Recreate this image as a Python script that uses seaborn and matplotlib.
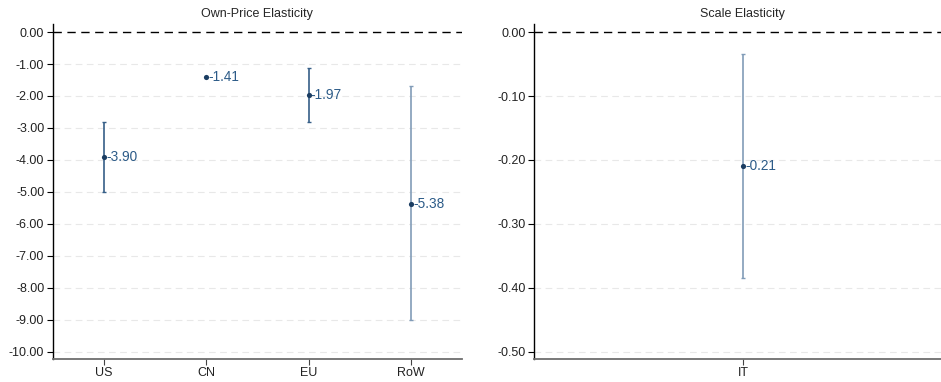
import matplotlib
matplotlib.use("Agg")
import matplotlib.pyplot as plt
import seaborn as sns
import pandas as pd
from matplotlib.ticker import FormatStrFormatter

# Own-price elasticities by region
regions = ["US", "CN", "EU", "RoW"]
own_est = [-3.90, -1.41, -1.97, -5.38]
own_lo = [-5.00, -1.41, -2.80, -9.02]
own_hi = [-2.80, -1.41, -1.12, -1.70]
own_precise = [True, True, True, False]

# Scale elasticity
scale_cat = ["IT"]
scale_est = [-0.21]
scale_lo = [-0.385]
scale_hi = [-0.034]
scale_precise = [False]

sns.set_theme(style="white")
plt.rcParams["font.family"] = ["Liberation Sans", "DejaVu Sans"]
plt.rcParams["axes.unicode_minus"] = False

POINT = "#1b3d62"
CI_DARK = "#365f88"
CI_LIGHT = "#819cb8"
LABEL = "#2c5b88"

fig = plt.figure(figsize=(9.41, 3.82), dpi=100)
ax1 = fig.add_axes([0.056, 0.061, 0.435, 0.876])
ax2 = fig.add_axes([0.568, 0.061, 0.443, 0.876])


def panel(ax, cats, est, lo, hi, precise, title, yticks, ylim):
    df = pd.DataFrame({"cat": cats, "est": est})
    for i, (l, h, p) in enumerate(zip(lo, hi, precise)):
        if h - l <= 0:
            continue
        c = CI_DARK if p else CI_LIGHT
        ax.errorbar(i, (l + h) / 2, yerr=(h - l) / 2, fmt="none", ecolor=c,
                    elinewidth=1.2, capsize=1.6, capthick=1.0, zorder=3)
    sns.scatterplot(data=df, x="cat", y="est", ax=ax, color=POINT, s=14,
                    edgecolor=POINT, linewidth=0, zorder=4)
    for i, v in enumerate(est):
        ax.annotate(f"{v:.2f}", (i, v), xytext=(1.5, 0), textcoords="offset points",
                    va="center", ha="left", fontsize=9.8, color=LABEL)
    ax.axhline(0, color="black", lw=1.0, ls=(0, (6, 4)), zorder=2)
    for t in yticks:
        if t != 0:
            ax.axhline(t, color="#e8e8e8", lw=0.8, ls=(0, (6, 4)), zorder=1)
    ax.set_yticks(yticks)
    ax.yaxis.set_major_formatter(FormatStrFormatter("%.2f"))
    ax.set_ylim(*ylim)
    ax.set_xlim(-0.5, len(cats) - 0.5)
    ax.set_xlabel("")
    ax.set_ylabel("")
    ax.set_title(title, fontsize=9, pad=5)
    for s in ["top", "right"]:
        ax.spines[s].set_visible(False)
    ax.spines["left"].set_color("black")
    ax.spines["left"].set_linewidth(1.0)
    ax.spines["bottom"].set_color("#6e6e6e")
    ax.spines["bottom"].set_linewidth(1.3)
    ax.tick_params(axis="y", which="major", left=True, length=4, width=0.8,
                   color="black", labelsize=9, pad=2, labelcolor="#222222")
    ax.tick_params(axis="x", which="major", bottom=True, length=4, width=0.8,
                   color="#444444", labelsize=9, pad=2, labelcolor="#222222")
    ax.grid(False)


panel(ax1, regions, own_est, own_lo, own_hi, own_precise, "Own-Price Elasticity",
      [0, -1, -2, -3, -4, -5, -6, -7, -8, -9, -10], (-10.22, 0.25))
panel(ax2, scale_cat, scale_est, scale_lo, scale_hi, scale_precise, "Scale Elasticity",
      [0, -0.1, -0.2, -0.3, -0.4, -0.5], (-0.511, 0.0126))

fig.savefig("out.png", dpi=100)
